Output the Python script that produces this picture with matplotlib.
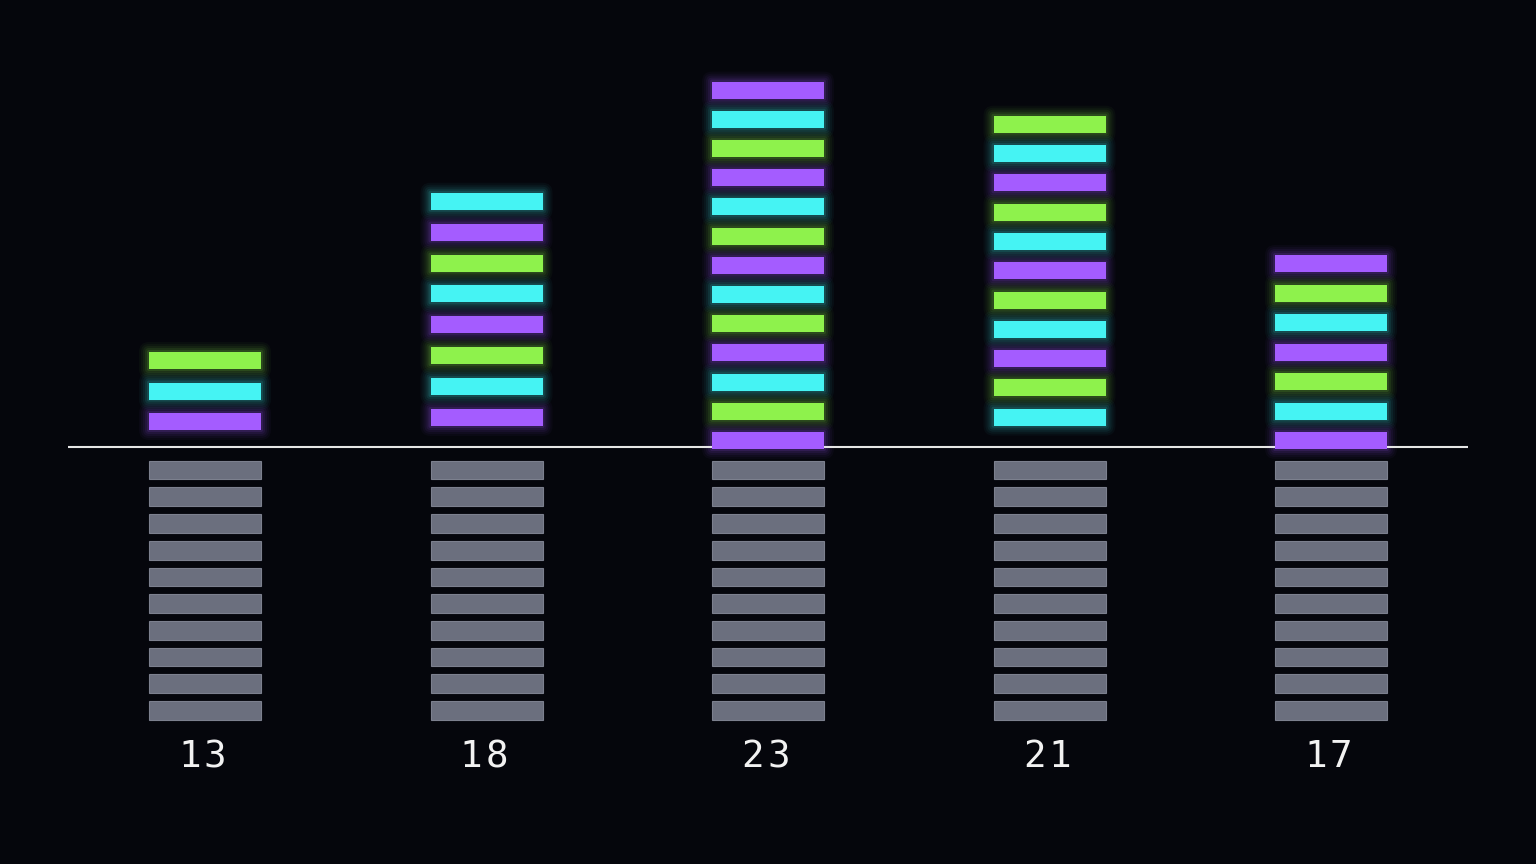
import numpy as np
import matplotlib
matplotlib.use("Agg")
import matplotlib.pyplot as plt
from matplotlib.patches import Rectangle, FancyBboxPatch

# values shown under each column (10 grey units + coloured units above the line)
labels = ["13", "18", "23", "21", "17"]
totals = [13, 18, 23, 21, 17]
base_units = 10

# colour of each coloured unit, from the line upwards (P=purple, C=cyan, G=green)
stack_colors = [
    list("PCG"),
    list("PCGPCGPC"),
    list("PGCPGCPGCPGCP"),
    list("CGPCGPCGPCG"),
    list("PCGPCGP"),
]

palette = {"P": "#a45cff", "C": "#45f3f3", "G": "#8ef24c"}
grey = "#6b6f7e"
bg = "#05060c"

# layout (pixels)
W, H = 1536, 864
line_y = 447
x0, x_step = 205, 281.5
bar_w = 112
col_h = 17
lift = [17, 21, -2, 21.3, -2]        # gap between line and lowest coloured unit
pitch = [30.5, 30.9, 29.2, 29.3, 29.5]
grey_top, grey_pitch, grey_h = 460.7, 26.7, 18.7
char_pitch = 25.5

fig = plt.figure(figsize=(W / 100, H / 100), dpi=100)
fig.patch.set_facecolor(bg)
ax = fig.add_axes([0, 0, 1, 1])
ax.set_facecolor(bg)
ax.set_xlim(0, W)
ax.set_ylim(H, 0)
ax.axis("off")


def glow_bar(x, y, w, h, color):
    # soft halo made of a few widening translucent boxes
    for pad, a in [(10, 0.035), (8, 0.045), (6, 0.06), (4, 0.08), (2, 0.12)]:
        ax.add_patch(FancyBboxPatch((x, y), w, h, boxstyle=f"round,pad={pad}",
                                    facecolor=color, edgecolor="none",
                                    alpha=a, zorder=2))
    ax.add_patch(Rectangle((x, y), w, h, facecolor=color, edgecolor="none", zorder=3))


for i, (lab, tot) in enumerate(zip(labels, totals)):
    cx = x0 + i * x_step
    left = cx - bar_w / 2

    # grey base units below the line
    for k in range(base_units):
        y = grey_top + k * grey_pitch
        ax.add_patch(Rectangle((left, y), bar_w, grey_h, facecolor=grey,
                               edgecolor="#7c808e", linewidth=0.8, zorder=3))

    # coloured units above the line
    n = tot - base_units
    for k in range(n):
        bottom = line_y - lift[i] - k * pitch[i]
        glow_bar(left, bottom - col_h, bar_w, col_h, palette[stack_colors[i][k]])

    # label, one character at a time for the wide letter spacing
    for j, ch in enumerate(lab):
        dx = (j - (len(lab) - 1) / 2) * char_pitch - 2.5
        ax.text(cx + dx, 757, ch, ha="center", va="center", color="#f2f2f2",
                fontsize=27, family="DejaVu Sans Mono", zorder=4)

ax.plot([68, 1468], [line_y, line_y], color="#e6e6e6", linewidth=1.5,
        solid_capstyle="butt", zorder=2.5)

fig.savefig("out.png", dpi=100, facecolor=bg)
